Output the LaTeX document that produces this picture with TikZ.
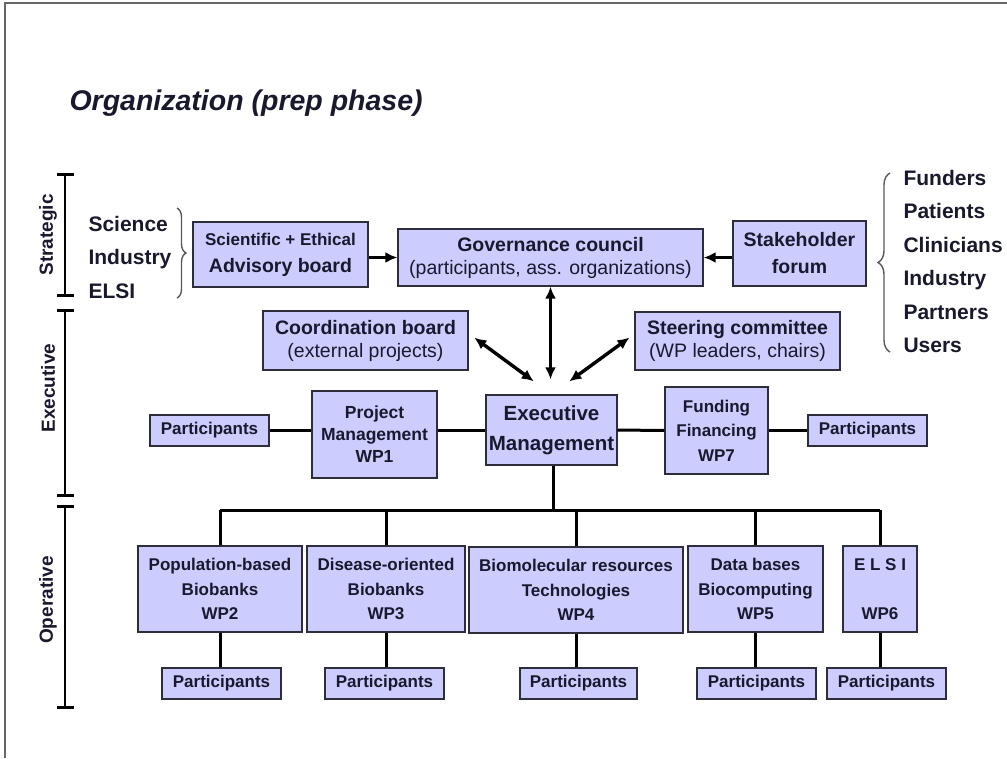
\documentclass[tikz,border=0pt]{standalone}
\usepackage{fontspec}
\setmainfont{Liberation Sans}
\usetikzlibrary{arrows.meta,decorations.pathreplacing,calc}

\definecolor{boxfill}{RGB}{204,204,255}
\definecolor{boxline}{RGB}{45,45,60}
\definecolor{ink}{RGB}{25,25,45}

\begin{document}
\begin{tikzpicture}[x=1pt,y=-1pt,
  box/.style={draw=boxline,line width=1.3pt,fill=boxfill,text=ink,align=center,inner sep=0pt},
  small/.style={font=\fontsize{17}{24.5}\selectfont\bfseries},
  big/.style={font=\fontsize{19.5}{23}\selectfont},
  part/.style={box,small,minimum width=119pt,minimum height=31pt},
  link/.style={line width=3pt},
  arr/.style={line width=3.4pt,-{Latex[length=12pt,width=11pt]}},
  darr/.style={line width=3.4pt,{Latex[length=12pt,width=11pt]}-{Latex[length=12pt,width=11pt]}},
  axis/.style={line width=2.8pt,{Bar[width=17pt]}-{Bar[width=17pt]}},
  level/.style={rotate=90,text=ink,font=\fontsize{19}{23}\selectfont\bfseries},
  list/.style={anchor=west,align=left,text=ink,font=\fontsize{21}{33.5}\selectfont\bfseries},
  curly/.style={decorate,line width=1.4pt,draw=black!65}]
\useasboundingbox (0,0) rectangle (1007,758);
\draw[black!60,line width=1.5pt] (5,758) -- (5,3) -- (1007,3);

\node[anchor=west,text=ink,font=\fontsize{28.5}{30}\selectfont\bfseries\itshape] (title) at (66,103) {Organization (prep phase)};

\draw[axis] (65,173) -- (65,297);
\draw[axis] (65,309) -- (65,497);
\draw[axis] (65,505) -- (65,709);
\node[level] (strat) at (48,235) {Strategic};
\node[level] (exe) at (48,388) {Executive};
\node[level] (oper) at (48,600) {Operative};

\node[list] (left) at (85,257) {Science\\Industry\\ELSI};
\node[list] (right) at (900,261.5) {Funders\\Patients\\Clinicians\\Industry\\Partners\\Users};
\draw[curly,decoration={brace,amplitude=9pt}] (177,208) -- (177,298);
\draw[curly,decoration={brace,amplitude=12pt}] (890,352) -- (890,173);

\node[box,minimum width=175pt,minimum height=65pt,font=\fontsize{19.5}{27}\selectfont\bfseries] (adv) at (280.5,254.5) {{\fontsize{17}{27}\selectfont Scientific + Ethical}\\Advisory board};
\node[box,big,minimum width=305pt,minimum height=57pt] (gov) at (550.5,257.5) {\textbf{Governance council}\\(participants, ass. organizations)};
\node[box,minimum width=133pt,minimum height=65pt,font=\fontsize{19.5}{27}\selectfont\bfseries] (stake) at (799.5,253.5) {Stakeholder\\forum};
\node[box,big,minimum width=205pt,minimum height=59pt] (coord) at (365.5,340.5) {\textbf{Coordination board}\\(external projects)};
\node[box,big,minimum width=205pt,minimum height=58pt] (steer) at (737.5,341) {\textbf{Steering committee}\\(WP leaders, chairs)};

\node[part] (part1) at (209.5,430.5) {Participants};
\node[box,minimum width=125pt,minimum height=87pt,font=\fontsize{17.5}{22}\selectfont\bfseries] (pm) at (374.5,434.5) {Project\\Management\\WP1};
\node[box,minimum width=131pt,minimum height=70pt,font=\fontsize{20.5}{30}\selectfont\bfseries] (exec) at (551.5,430) {Executive\\Management};
\node[box,small,minimum width=103pt,minimum height=87pt] (fund) at (716.5,430.5) {Funding\\Financing\\WP7};
\node[part] (part7) at (867.5,430.5) {Participants};

\node[box,small,minimum width=164pt,minimum height=86pt] (wp2) at (220,589) {Population-based\\Biobanks\\WP2};
\node[box,small,minimum width=158pt,minimum height=86pt] (wp3) at (386,589) {Disease-oriented\\Biobanks\\WP3};
\node[box,small,minimum width=214pt,minimum height=86pt] (wp4) at (576,590) {Biomolecular resources\\Technologies\\WP4};
\node[box,small,minimum width=135pt,minimum height=86pt] (wp5) at (755.5,589) {Data bases\\Biocomputing\\WP5};
\node[box,small,minimum width=74pt,minimum height=86pt] (wp6) at (880,589) {E L S I\\[24.5pt]WP6};

\node[part] (p2) at (221.5,683.5) {Participants};
\node[part] (p3) at (384.5,683.5) {Participants};
\node[part,minimum width=117pt] (p4) at (578.5,683.5) {Participants};
\node[part] (p5) at (756.5,683.5) {Participants};
\node[part] (p6) at (886.5,683.5) {Participants};

\draw[arr] (adv.east |- gov.west) -- (gov.west);
\draw[arr] (stake.west |- gov.east) -- (gov.east);
\draw[darr,shorten >=15pt] (gov.south) -- (gov.south |- exec.north);
\draw[darr,shorten <=7pt,shorten >=22pt] ($(coord.east)+(0,-7)$) -- (exec.north);
\draw[darr,shorten <=6pt,shorten >=22pt] ($(steer.west)+(0,-7)$) -- (exec.north);

\draw[link] (part1.east) -- (part1.east -| pm.west);
\draw[link] (exec.west -| pm.east) -- (exec.west);
\draw[link] (exec.east) -- (fund.west);
\draw[link] (fund.east) -- (part7.west);

\coordinate (bus) at (553,510);
\draw[link] (exec.south -| bus) -- (bus);
\draw[link] (wp2.north |- bus) -- (wp6.north |- bus);
\foreach \w/\p in {wp2/p2,wp3/p3,wp4/p4,wp5/p5,wp6/p6} {
  \draw[link] (\w.north) -- (\w.north |- bus);
  \draw[link] (\w.south) -- (\w.south |- \p.north);
}
\end{tikzpicture}
\end{document}
